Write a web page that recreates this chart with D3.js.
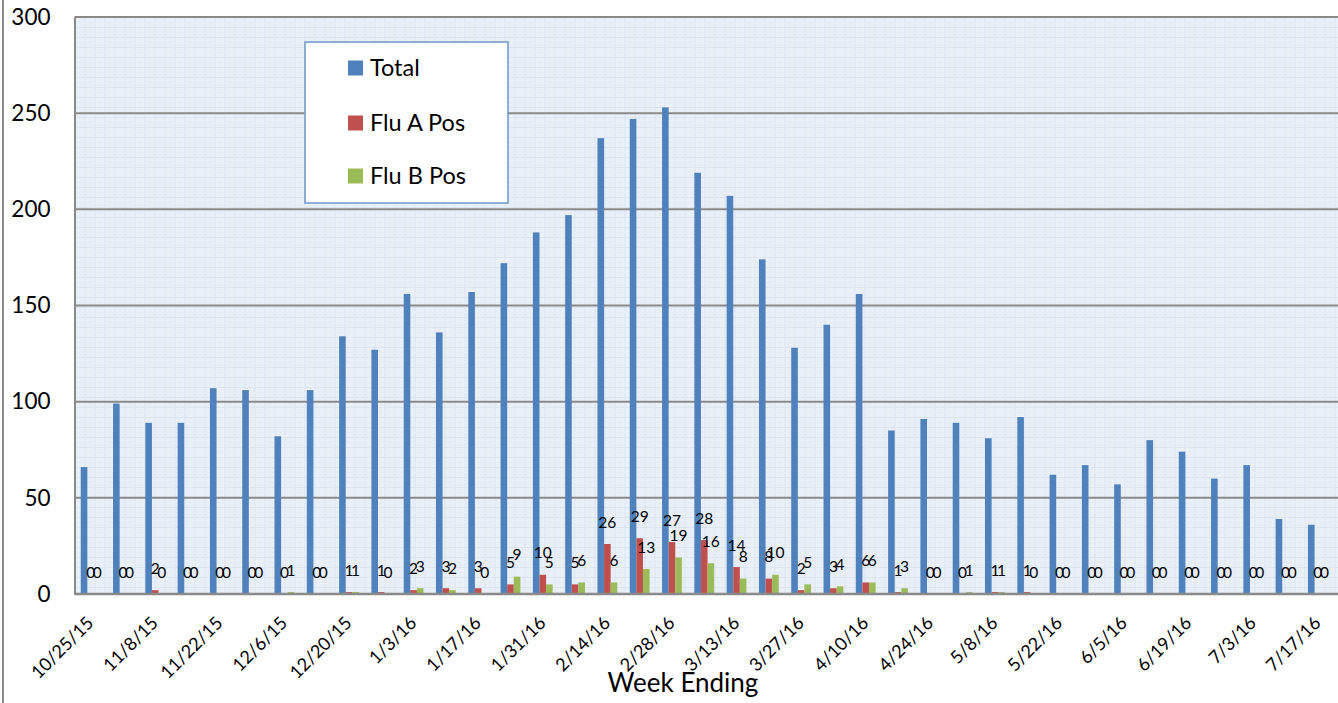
<!DOCTYPE html>
<html>
<head>
<meta charset="utf-8">
<script src="https://cdn.jsdelivr.net/npm/d3@7"></script>
<style>
  html, body { margin: 0; padding: 0; background: #ffffff; }
  svg { display: block; font-family: Lato, "Open Sans", sans-serif; }
</style>
</head>
<body>
<svg id="chart" width="1338" height="703"></svg>
<script>
// ---- data ----
const weeks = ["10/25/15","11/1/15","11/8/15","11/15/15","11/22/15","11/29/15","12/6/15","12/13/15",
  "12/20/15","12/27/15","1/3/16","1/10/16","1/17/16","1/24/16","1/31/16","2/7/16","2/14/16","2/21/16",
  "2/28/16","3/6/16","3/13/16","3/20/16","3/27/16","4/3/16","4/10/16","4/17/16","4/24/16","5/1/16",
  "5/8/16","5/15/16","5/22/16","5/29/16","6/5/16","6/12/16","6/19/16","6/26/16","7/3/16","7/10/16","7/17/16"];
const total = [66,99,89,89,107,106,82,106,134,127,156,136,157,172,188,197,237,247,253,219,207,174,128,140,156,
  85,91,89,81,92,62,67,57,80,74,60,67,39,36];
const fluA = [0,0,2,0,0,0,0,0,1,1,2,3,3,5,10,5,26,29,27,28,14,8,2,3,6,1,0,0,1,1,0,0,0,0,0,0,0,0,0];
const fluB = [0,0,0,0,0,0,1,0,1,0,3,2,0,9,5,6,6,13,19,16,8,10,5,4,6,3,0,1,1,0,0,0,0,0,0,0,0,0,0];
const seriesNames = ["Total","Flu A Pos","Flu B Pos"];
const seriesColors = ["#4f81bd","#c0504d","#9bbb59"];
const yTicks = [0,50,100,150,200,250,300];
const xTickLabels = weeks.filter((d,i) => i % 2 === 0);
const xTitle = "Week Ending";

// ---- layout ----
const svg = d3.select("#chart");
const L = 74.5, R = 1334, T = 17, B = 594;

const x0 = d3.scaleBand().domain(weeks).range([L, R]).paddingInner(0.387).paddingOuter(0.1935);
const x1 = d3.scaleBand().domain(seriesNames).range([0, x0.bandwidth()]);
const y = d3.scaleLinear().domain([0, 300]).range([B, T]);

// outer chart border (left edge visible)
svg.append("line").attr("x1",3).attr("x2",3).attr("y1",0).attr("y2",703)
  .attr("stroke","#8c8c8c").attr("stroke-width",2);

// background pattern
const defs = svg.append("defs");
const pat = defs.append("pattern").attr("id","grid").attr("width",10).attr("height",10)
  .attr("patternUnits","userSpaceOnUse").attr("x",L).attr("y",T);
pat.append("rect").attr("width",10).attr("height",10).attr("fill","#eaf0f8");
pat.append("path").attr("d","M0,0.5H10M0.5,0V10").attr("stroke","#dbe4f1").attr("stroke-width",1);
pat.append("path").attr("d","M0,5.5H10M5.5,0V10").attr("stroke","#e2e9f4").attr("stroke-width",1).attr("stroke-dasharray","1,1");

svg.append("rect").attr("x",L).attr("y",T).attr("width",1338-L).attr("height",B-T)
  .attr("fill","url(#grid)");

// horizontal gridlines
svg.append("g").selectAll("line").data(yTicks.filter(d => d > 0)).join("line")
  .attr("x1",L).attr("x2",1338).attr("y1",d => y(d)).attr("y2",d => y(d))
  .attr("stroke","#8a8a8a").attr("stroke-width",2);

// y axis (left border) and labels
const yAxis = d3.axisLeft(y).tickValues(yTicks).tickSize(0).tickPadding(24);
const yg = svg.append("g").attr("transform",`translate(${L},0)`).call(yAxis);
yg.select(".domain").attr("stroke","#8a8a8a").attr("stroke-width",2);
yg.selectAll("text").attr("font-size",22.5).attr("fill","#000").attr("font-family","Lato, sans-serif");

// bars
const rows = weeks.map((w,i) => ({week:w, vals:[total[i], fluA[i], fluB[i]]}));
const groups = svg.append("g").selectAll("g").data(rows).join("g")
  .attr("transform", d => `translate(${x0(d.week)},0)`);
groups.selectAll("rect").data(d => d.vals.map((v,k) => ({k, v}))).join("rect")
  .attr("x", d => x1(seriesNames[d.k]))
  .attr("width", x1.bandwidth())
  .attr("y", d => y(d.v))
  .attr("height", d => B - y(d.v))
  .attr("fill", d => seriesColors[d.k]);

// data labels for flu A / flu B
groups.selectAll("text").data(d => d.vals.map((v,k) => ({k, v})).filter(d => d.k > 0)).join("text")
  .attr("x", d => x1(seriesNames[d.k]) + x1.bandwidth()/2)
  .attr("y", d => y(d.v) - 22)
  .attr("dy","0.36em")
  .attr("text-anchor","middle")
  .attr("font-size",15.5)
  .attr("fill","#000")
  .text(d => d.v);

// x axis line
const xAxis = d3.axisBottom(x0).tickValues(xTickLabels).tickSize(0).tickFormat(d => d);
const xg = svg.append("g").attr("transform",`translate(0,${B})`).call(xAxis);
xg.select(".domain").remove();
svg.append("line").attr("x1",L).attr("x2",1338).attr("y1",B).attr("y2",B)
  .attr("stroke","#8a8a8a").attr("stroke-width",2.5);
xg.selectAll(".tick text")
  .attr("font-size",18).attr("fill","#000").attr("font-family","Lato, sans-serif")
  .attr("text-anchor","end").attr("dy",null).attr("y",null)
  .attr("transform","translate(4,30) rotate(-45)");

// x title
svg.append("text").attr("x",683).attr("y",692).attr("text-anchor","middle")
  .attr("font-size",26).attr("fill","#000").text(xTitle);

// legend
const lg = svg.append("g");
lg.append("rect").attr("x",305).attr("y",42).attr("width",203).attr("height",161)
  .attr("fill","#fff").attr("stroke","#6f96cc").attr("stroke-width",1.5);
const legY = [68,123,176];
seriesNames.forEach((s,i) => {
  lg.append("rect").attr("x",348).attr("y",legY[i]-7.5).attr("width",15).attr("height",15).attr("fill",seriesColors[i]);
  lg.append("text").attr("x",370).attr("y",legY[i]).attr("dy","0.36em").attr("font-size",23.5).attr("fill","#000").text(s);
});
</script>
</body>
</html>
